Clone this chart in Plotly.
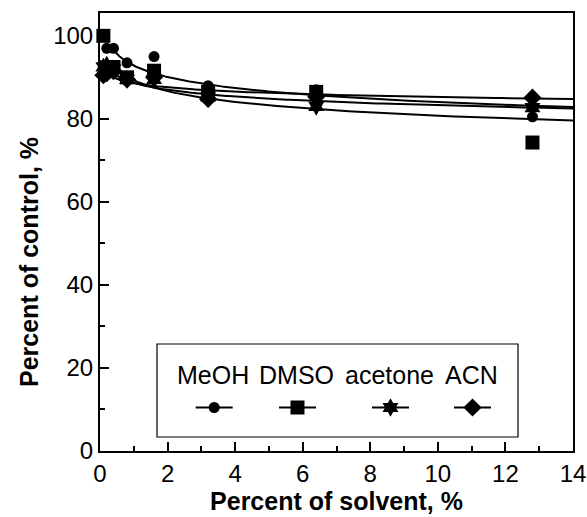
import numpy as np
import plotly.graph_objects as go

# ---- data ----
solvent_pct = [0.1, 0.2, 0.4, 0.8, 1.6, 3.2, 6.4, 12.8]
meoh_x = [0.2, 0.4, 0.8, 1.6, 3.2, 6.4, 12.8]
meoh_y = [97.0, 97.0, 93.5, 95.0, 88.0, 87.0, 80.5]
dmso_y = [100.0, 91.5, 92.5, 90.0, 91.6, 86.5, 86.5, 74.3]
acetone_y = [92.5, 93.0, 92.0, 89.5, 89.5, 85.3, 83.0, 82.7]
acn_y = [90.5, 91.0, 91.5, 89.5, 90.0, 84.8, 85.3, 85.1]
names = ["MeOH", "DMSO", "acetone", "ACN"]
fit_start, fit_end = 0.4, 14.0

x_ticks = [0, 2, 4, 6, 8, 10, 12, 14]
y_ticks = [0, 20, 40, 60, 80, 100]

series = [
    (meoh_x, meoh_y, "circle", 11),
    (solvent_pct, dmso_y, "square", 14),
    (solvent_pct, acetone_y, "hexagram", 14),
    (solvent_pct, acn_y, "diamond", 14),
]

W, H = 587, 517
L, R, T, B = 100, 14, 13, 66
pw, ph = W - L - R, H - T - B
def px_x(px):
    return (px - L) / pw
def px_y(py):
    return (H - B - py) / ph

FONT = "Liberation Sans, Arial, sans-serif"

fig = go.Figure()
xx = np.geomspace(fit_start, fit_end, 200)
# power-law trend lines fitted to each series
for xs, ys, sym, sz in series:
    b, lna = np.polyfit(np.log(xs), np.log(ys), 1)
    fig.add_trace(go.Scatter(x=xx, y=np.exp(lna) * xx ** b, mode="lines",
                             line=dict(color="black", width=2),
                             showlegend=False, hoverinfo="skip"))
for xs, ys, sym, sz in series:
    fig.add_trace(go.Scatter(x=xs, y=ys, mode="markers",
                             marker=dict(symbol=sym, size=sz, color="black",
                                         line=dict(width=0)),
                             showlegend=False, cliponaxis=False))

# legend samples (one small legend per solvent)
leg_px = [212.7, 296, 389, 471]
leg_py = 407
legend_ids = ["legend", "legend2", "legend3", "legend4"]
for (xs, ys, sym, sz), lid in zip(series, legend_ids):
    fig.add_trace(go.Scatter(x=[None], y=[None], mode="lines+markers", name=" ",
                             marker=dict(symbol=sym, size=sz, color="black"),
                             line=dict(color="black", width=2),
                             legend=lid, showlegend=True))

layout_legends = {}
for lid, mx in zip(legend_ids, leg_px):
    layout_legends[lid] = dict(x=px_x(mx - 22), y=px_y(leg_py - 14), xanchor="left",
                               yanchor="top", bgcolor="rgba(0,0,0,0)",
                               borderwidth=0, itemwidth=37,
                               font=dict(size=10, color="black"))

annotations = []
for nm, mx in zip(names, leg_px):
    annotations.append(dict(x=px_x(mx), y=px_y(375), xref="paper", yref="paper",
                            text=nm, showarrow=False, xanchor="center", yanchor="middle",
                            font=dict(size=25, color="black", family=FONT)))
annotations.append(dict(x=px_x(29), y=px_y(262), xref="paper", yref="paper",
                        text="<b>Percent of control, %</b>", textangle=-90,
                        showarrow=False, xanchor="center", yanchor="middle",
                        font=dict(size=25, color="black", family=FONT)))

axis_common = dict(showline=True, linewidth=2, linecolor="black", mirror=True,
                   ticks="inside", ticklen=9, tickwidth=2, tickcolor="black",
                   showgrid=False, zeroline=False, automargin=False,
                   tickfont=dict(size=24, color="black", family=FONT))

fig.update_layout(
    width=W, height=H, margin=dict(l=L, r=R, t=T, b=B, autoexpand=False),
    paper_bgcolor="white", plot_bgcolor="white",
    xaxis=dict(range=[0, 14], tickvals=x_ticks,
               minor=dict(dtick=1, ticks="inside", ticklen=5, tickwidth=2, tickcolor="black"),
               title=dict(text="<b>Percent of solvent, %</b>", standoff=4,
                          font=dict(size=25, color="black", family=FONT)),
               **axis_common),
    yaxis=dict(range=[0, 105.5], tickvals=y_ticks,
               minor=dict(dtick=10, ticks="inside", ticklen=5, tickwidth=2, tickcolor="black"),
               **axis_common),
    shapes=[dict(type="rect", xref="paper", yref="paper",
                 x0=px_x(157), x1=px_x(518), y0=px_y(344), y1=px_y(437),
                 line=dict(color="black", width=1.2), fillcolor="white", layer="below")],
    annotations=annotations,
    **layout_legends,
)
fig.write_html("out.html", config={"displayModeBar": False},
               post_script="document.body.style.margin='0';document.body.style.overflow='hidden';")
